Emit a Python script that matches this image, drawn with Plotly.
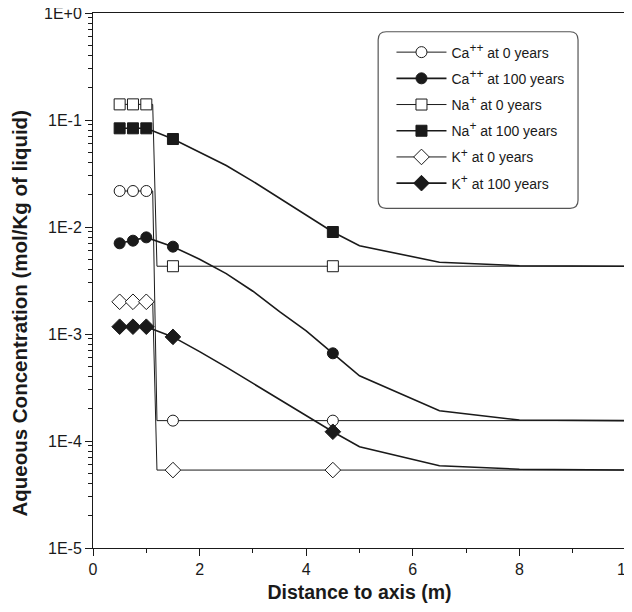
import plotly.graph_objects as go

# ---- data ----
x_0yr = [0.5, 0.75, 1.0, 1.12, 1.2, 1.5, 4.5, 10.0]
ca_0yr = [0.0217, 0.0217, 0.0217, 0.0217, 1.55e-4, 1.55e-4, 1.55e-4, 1.55e-4]
na_0yr = [0.140, 0.140, 0.140, 0.140, 4.3e-3, 4.3e-3, 4.3e-3, 4.3e-3]
k_0yr = [2.0e-3, 2.0e-3, 2.0e-3, 2.0e-3, 5.35e-5, 5.35e-5, 5.35e-5, 5.35e-5]

x_100yr = [0.5, 0.75, 1.0, 1.5, 2.0, 2.5, 3.0, 3.5, 4.0, 4.5, 5.0, 6.5, 8.0, 10.0]
ca_100yr = [7.04e-3, 7.45e-3, 8.0e-3, 6.55e-3, 5.0e-3, 3.67e-3, 2.51e-3, 1.62e-3,
            1.07e-3, 6.6e-4, 4.07e-4, 1.92e-4, 1.57e-4, 1.55e-4]
na_100yr = [0.0836, 0.0836, 0.0836, 0.0664, 0.0501, 0.0376, 0.0267, 0.0186,
            0.0129, 8.98e-3, 6.69e-3, 4.68e-3, 4.35e-3, 4.3e-3]
k_100yr = [1.17e-3, 1.17e-3, 1.17e-3, 9.4e-4, 6.85e-4, 4.9e-4, 3.47e-4, 2.43e-4,
           1.72e-4, 1.22e-4, 8.85e-5, 5.88e-5, 5.45e-5, 5.35e-5]

marker_x = [0.5, 0.75, 1.0, 1.5, 4.5]

x_tickvals = [0, 2, 4, 6, 8, 10]
x_minor_tickvals = [1, 3, 5, 7, 9]
y_tickvals = [1e0, 1e-1, 1e-2, 1e-3, 1e-4, 1e-5]
y_ticktext = ["1E+0", "1E-1", "1E-2", "1E-3", "1E-4", "1E-5"]
y_minor_tickvals = [m * 10.0 ** e for e in range(-5, 0) for m in range(2, 10)]

SUP = '<sup><span style="font-size:12px">{}</span></sup>'
series = [
    ("Ca" + SUP.format("++") + " at 0 years", x_0yr, ca_0yr, "circle-open", 1.0),
    ("Ca" + SUP.format("++") + " at 100 years", x_100yr, ca_100yr, "circle", 1.6),
    ("Na" + SUP.format("+") + " at 0 years", x_0yr, na_0yr, "square-open", 1.0),
    ("Na" + SUP.format("+") + " at 100 years", x_100yr, na_100yr, "square", 1.6),
    ("K" + SUP.format("+") + " at 0 years", x_0yr, k_0yr, "diamond-open", 1.0),
    ("K" + SUP.format("+") + " at 100 years", x_100yr, k_100yr, "diamond", 1.6),
]

INK = "#1a1a1a"
fig = go.Figure()
for i, (name, xs, ys, sym, lw) in enumerate(series):
    open_sym = sym.endswith("-open")
    base_sym = sym.replace("-open", "")
    mk = dict(symbol=base_sym, size=11 if base_sym != "diamond" else 12,
              color="white" if open_sym else INK,
              line=dict(color=INK, width=1))
    fig.add_trace(go.Scatter(x=xs, y=ys, mode="lines", line=dict(color=INK, width=lw),
                             showlegend=False, hoverinfo="skip"))
    mx = [x for x in xs if x in marker_x]
    my = [y for x, y in zip(xs, ys) if x in marker_x]
    fig.add_trace(go.Scatter(x=mx, y=my, mode="markers", marker=mk, showlegend=False))
    fig.add_trace(go.Scatter(x=[None], y=[None], mode="lines+markers", name=name,
                             marker=mk, line=dict(color=INK, width=lw),
                             legendgroup=f"g{i}", showlegend=True))

# page body has an 8px default margin: figure is sized so the page does not overflow vertically
fig.update_layout(
    width=624, height=596,
    margin=dict(l=85, r=6, t=5, b=56),
    paper_bgcolor="white", plot_bgcolor="white",
    font=dict(family="Liberation Sans, Arial, sans-serif", size=14, color=INK),
    showlegend=True,
    legend=dict(x=0.56, y=0.956, xanchor="left", yanchor="top",
                bgcolor="rgba(0,0,0,0)", borderwidth=0,
                itemwidth=50, tracegroupgap=5,
                font=dict(size=14, color=INK)),
    shapes=[dict(type="path", xref="paper", yref="paper",
                 path="M 0.535,0.950 Q 0.535,0.965 0.550,0.965 L 0.895,0.965 Q 0.910,0.965 0.910,0.950 "
                      "L 0.910,0.650 Q 0.910,0.635 0.895,0.635 L 0.550,0.635 Q 0.535,0.635 0.535,0.650 Z",
                 line=dict(color="#555555", width=1.2), fillcolor="rgba(0,0,0,0)")],
    annotations=[dict(text="<b>Aqueous Concentration (mol/Kg of liquid)</b>", textangle=-90,
                      xref="paper", yref="paper", x=-0.137, y=0.44, showarrow=False,
                      xanchor="center", yanchor="middle", font=dict(size=20.5, color=INK))],
)

fig.update_xaxes(range=[0, 10], tickvals=x_tickvals, ticks="outside", ticklen=7,
                 tickcolor=INK, showline=True, linecolor=INK, linewidth=1, mirror=True,
                 showgrid=False, zeroline=False, automargin=False, ticklabeloverflow="allow",
                 minor=dict(tickvals=x_minor_tickvals, ticks="outside", ticklen=4, tickcolor=INK),
                 title=dict(text="<b>Distance to axis (m)</b>", font=dict(size=19.5), standoff=8),
                 tickfont=dict(size=16))
fig.update_yaxes(type="log", range=[-5, 0], tickvals=y_tickvals, ticktext=y_ticktext,
                 ticks="outside", ticklen=7, tickcolor=INK, showline=True, linecolor=INK,
                 linewidth=1, mirror="ticks", showgrid=False, zeroline=False, automargin=False,
                 ticklabeloverflow="allow",
                 minor=dict(tickvals=y_minor_tickvals, ticks="outside", ticklen=4, tickcolor=INK,
                            showgrid=False),
                 tickfont=dict(size=16))

fig.write_html("out.html")
